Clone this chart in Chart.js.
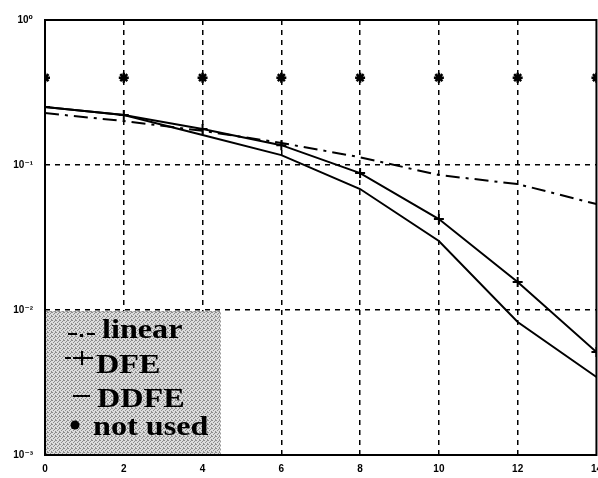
<!DOCTYPE html>
<html>
<head>
<meta charset="utf-8">
<script src="https://cdn.jsdelivr.net/npm/chart.js@4"></script>
<style>
  body { margin: 0; background: #fff; width: 598px; height: 478px; overflow: hidden; }
  canvas { display: block; }
</style>
</head>
<body>
<canvas id="berChart" width="610" height="478"></canvas>
<script>
// values (log scale)
const snr = [0, 2, 4, 6, 8, 10, 12, 14];
const linearBer = [0.228, 0.201, 0.172, 0.142, 0.113, 0.0853, 0.0739, 0.0538];
const dfeBer = [0.251, 0.221, 0.177, 0.137, 0.088, 0.0424, 0.0156, 0.00513];
const ddfeBer = [0.251, 0.221, 0.161, 0.117, 0.0683, 0.0299, 0.00826, 0.00345];
const notUsedBer = [0.4, 0.4, 0.4, 0.4, 0.4, 0.4, 0.4, 0.4];

const yTickValues = [0.001, 0.01, 0.1, 1];
const yTickLabels = ['10⁻³', '10⁻²', '10⁻¹', '10⁰'];
const legendNames = ['linear', 'DFE', 'DDFE', 'not used'];

function toPoints(ys) {
  return snr.map((x, i) => ({ x: x, y: ys[i] }));
}

function stipple() {
  const p = document.createElement('canvas');
  p.width = 4;
  p.height = 4;
  const c = p.getContext('2d');
  c.fillStyle = '#dcdcdc';
  c.fillRect(0, 0, 4, 4);
  c.fillStyle = '#8c8c8c';
  [[0, 0], [2, 1], [1, 2], [3, 3], [3, 0]].forEach(([x, y]) => c.fillRect(x, y, 1, 1));
  return c.createPattern(p, 'repeat');
}

const edgeGrid = (ends) => ctx => (ctx.tick && ends.includes(ctx.tick.value)) ? 'rgba(0,0,0,0)' : '#000';

const legendBox = {
  id: 'legendBox',
  afterDatasetsDraw(chart) {
    const c = chart.ctx;
    const a = chart.chartArea;
    const left = a.left, bottom = a.bottom;
    c.save();
    c.fillStyle = stipple();
    c.fillRect(left, bottom - 144, 175, 144);
    c.strokeStyle = '#999';
    c.lineWidth = 1;
    c.setLineDash([2, 2]);
    c.strokeRect(left + 0.5, bottom - 143.5, 175, 144);
    c.setLineDash([]);

    c.strokeStyle = '#000';
    c.fillStyle = '#000';
    c.lineWidth = 2;
    // linear -.-
    c.beginPath();
    c.moveTo(left + 23, bottom - 121); c.lineTo(left + 32, bottom - 121);
    c.moveTo(left + 42, bottom - 121); c.lineTo(left + 50, bottom - 121);
    c.stroke();
    c.fillRect(left + 35, bottom - 121, 3, 3);
    // DFE -+
    c.beginPath();
    c.moveTo(left + 20, bottom - 97); c.lineTo(left + 26, bottom - 97);
    c.moveTo(left + 28, bottom - 97); c.lineTo(left + 48, bottom - 97);
    c.moveTo(left + 37, bottom - 104); c.lineTo(left + 37, bottom - 90);
    c.stroke();
    // DDFE —
    c.beginPath();
    c.moveTo(left + 28, bottom - 59); c.lineTo(left + 45, bottom - 59);
    c.stroke();
    // not used *
    c.beginPath();
    c.arc(left + 30, bottom - 30, 4.5, 0, Math.PI * 2);
    c.fill();

    c.font = 'bold 28px "Liberation Serif", "Times New Roman", serif';
    c.textBaseline = 'alphabetic';
    const rows = [[57, 117], [51, 82], [52, 48], [48, 20]];
    legendNames.forEach((name, i) => {
      c.save();
      c.translate(left + rows[i][0], bottom - rows[i][1]);
      c.scale(1.15, 1);
      c.fillText(name, 0, 0);
      c.restore();
    });
    c.restore();
  }
};

const frame = {
  id: 'frame',
  afterDraw(chart) {
    const a = chart.chartArea;
    const c = chart.ctx;
    c.save();
    c.strokeStyle = '#000';
    c.lineWidth = 2;
    c.strokeRect(a.left, a.top, a.right - a.left, a.bottom - a.top);
    c.restore();
  }
};

const tickFont = { family: '"Liberation Sans", "DejaVu Sans", sans-serif', size: 10, weight: 'bold' };

new Chart(document.getElementById('berChart').getContext('2d'), {
  type: 'line',
  data: {
    datasets: [
      {
        label: legendNames[0],
        data: toPoints(linearBer),
        borderColor: '#000',
        borderWidth: 2,
        borderDash: [14, 6, 3, 6],
        pointRadius: 0
      },
      {
        label: legendNames[1],
        data: toPoints(dfeBer),
        borderColor: '#000',
        borderWidth: 2,
        pointStyle: 'cross',
        pointRadius: 5,
        pointBorderWidth: 2
      },
      {
        label: legendNames[2],
        data: toPoints(ddfeBer),
        borderColor: '#000',
        borderWidth: 2,
        pointRadius: 0
      },
      {
        label: legendNames[3],
        data: toPoints(notUsedBer),
        showLine: false,
        borderColor: '#000',
        backgroundColor: '#000',
        pointStyle: 'star',
        pointRadius: 5,
        pointBorderWidth: 2.5
      }
    ]
  },
  options: {
    responsive: false,
    animation: false,
    layout: { autoPadding: false, padding: { top: 20, right: 1, bottom: 0, left: 0 } },
    plugins: { legend: { display: false }, tooltip: { enabled: false } },
    scales: {
      x: {
        type: 'linear',
        min: 0,
        max: 14,
        afterFit: s => { s.height = 23; },
        ticks: { stepSize: 2, color: '#000', font: tickFont, padding: 8, maxRotation: 0 },
        grid: { color: edgeGrid([0, 14]), lineWidth: 1.5, drawTicks: false },
        border: { display: false, dash: [5, 5] }
      },
      y: {
        type: 'logarithmic',
        min: 0.001,
        max: 1,
        afterFit: s => { s.width = 45; },
        afterBuildTicks: s => { s.ticks = yTickValues.map(v => ({ value: v })); },
        ticks: {
          color: '#000',
          font: tickFont,
          padding: 12,
          callback: v => yTickLabels[yTickValues.indexOf(v)]
        },
        grid: { color: edgeGrid([0.001, 1]), lineWidth: 1.5, drawTicks: false },
        border: { display: false, dash: [5, 5] }
      }
    }
  },
  plugins: [legendBox, frame]
});
</script>
</body>
</html>
